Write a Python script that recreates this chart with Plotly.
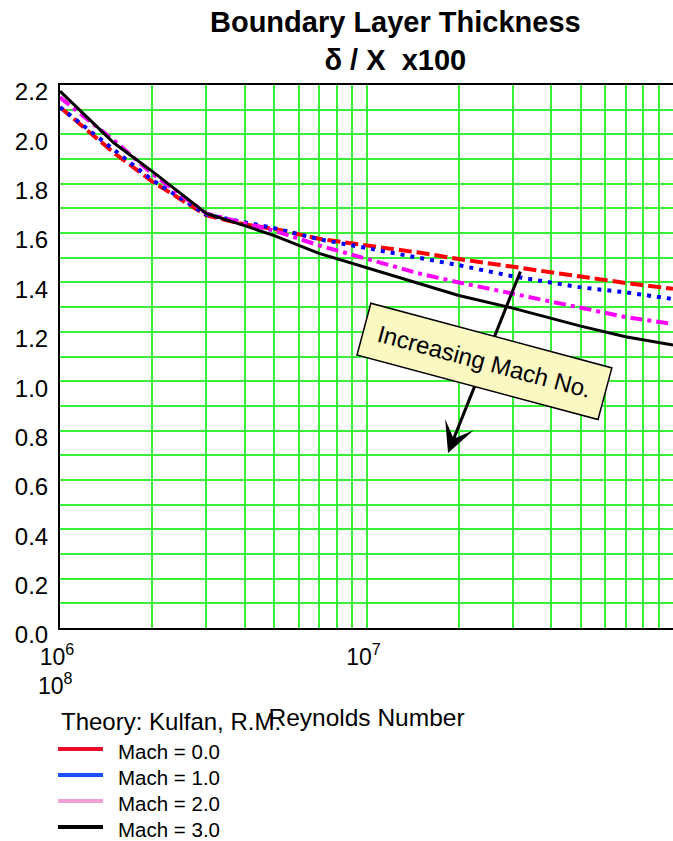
import math
import plotly.graph_objects as go

# Reynolds number stations and delta/x * 100 for each Mach number (Kulfan theory)
reynolds = [1e6, 1.5e6, 2e6, 3e6, 4e6, 5e6, 7e6, 1e7, 1.5e7, 2e7, 3e7, 5e7, 7e7, 1e8]
mach_0 = [2.11, 1.925, 1.809, 1.672, 1.635, 1.617, 1.577, 1.552, 1.52, 1.495, 1.462, 1.424, 1.398, 1.374]
mach_1 = [2.11, 1.935, 1.815, 1.675, 1.645, 1.62, 1.575, 1.54, 1.498, 1.47, 1.425, 1.38, 1.36, 1.333]
mach_2 = [2.15, 1.975, 1.84, 1.68, 1.64, 1.61, 1.55, 1.498, 1.435, 1.40, 1.355, 1.295, 1.26, 1.232]
mach_3 = [2.175, 1.965, 1.85, 1.68, 1.63, 1.59, 1.518, 1.459, 1.393, 1.347, 1.296, 1.223, 1.18, 1.147]

series_names = ["Mach = 0.0", "Mach = 1.0", "Mach = 2.0", "Mach = 3.0"]
series_values = [mach_0, mach_1, mach_2, mach_3]
line_colors = ["#ff0000", "#0000ff", "#ff00ff", "#000000"]
line_dashes = ["13px,5px", "4px,6px", "12px,5px,4px,5px", "solid"]
line_widths = [4, 4, 4, 3]
legend_colors = ["#ee0a2a", "#1a50ff", "#f2a0d2", "#000000"]

# y grid every 0.1, labels every 0.2
y_grid = [round(0.1 * i, 1) for i in range(23)]
y_text = [f"{v:.1f}" if i % 2 == 0 else "" for i, v in enumerate(y_grid)]

# x grid at 1..9 within each decade, labels at decades
x_mult = [m for e in (6, 7) for m in range(1, 10)]
x_grid = [m * 10 ** e for e in (6, 7) for m in range(1, 10)]
x_text = [f"10<sup>{int(round(math.log10(v)))}</sup>" if m == 1 else ""
          for v, m in zip(x_grid, x_mult)]

FONT = "Liberation Sans, Arial, sans-serif"
GRID = "rgb(55,240,55)"

# plot-area geometry in pixels, used to place paper-referenced items
W, H = 673, 841
L, R, T, B = 60, 0, 85, 213
PW, PH = W - L - R, H - T - B


def px_x(px):
    return (px - L) / PW


def px_y(py):
    return (H - B - py) / PH


fig = go.Figure()

for name, vals, color, dash, width in zip(series_names, series_values, line_colors, line_dashes, line_widths):
    fig.add_trace(go.Scatter(
        x=reynolds, y=vals, mode="lines", name=name, showlegend=False,
        line=dict(color=color, width=width, dash=dash),
    ))

fig.update_layout(
    width=W, height=H,
    margin=dict(l=L, r=R, t=T, b=B, autoexpand=False),
    paper_bgcolor="white", plot_bgcolor="white",
    font=dict(family=FONT, color="black"),
    showlegend=False,
    xaxis=dict(
        type="log", range=[6, 8],
        tickmode="array", tickvals=x_grid, ticktext=x_text,
        showgrid=True, gridcolor=GRID, gridwidth=1.5,
        showline=True, linecolor="black", linewidth=2, mirror=True,
        ticks="", tickfont=dict(size=23), automargin=False,
        ticklabelstandoff=7, ticklabelshift=-3,
        title=dict(text="Reynolds Number", font=dict(size=24.5), standoff=40),
        zeroline=False,
    ),
    yaxis=dict(
        range=[0, 2.2],
        tickmode="array", tickvals=y_grid, ticktext=y_text,
        showgrid=True, gridcolor=GRID, gridwidth=1.5,
        showline=True, linecolor="black", linewidth=2, mirror=False,
        ticks="", tickfont=dict(size=24), ticklabelstandoff=5, ticklabelshift=7,
        automargin=False, zeroline=False,
    ),
)

# two-line bold title
fig.add_annotation(text="<b>Boundary Layer Thickness</b><br><b>δ / X\u00a0 x100</b>",
                   xref="paper", yref="paper", x=px_x(395), y=px_y(4),
                   xanchor="center", yanchor="top", showarrow=False,
                   font=dict(size=29))

# decade line at 10^7
fig.add_shape(type="line", xref="x", yref="paper", x0=1e7, x1=1e7, y0=0, y1=1,
              line=dict(color="black", width=1), layer="below")

# wrapped 10^8 tick label
fig.add_annotation(text="10<sup>8</sup>", xref="paper", yref="paper",
                   x=px_x(55), y=px_y(684), xanchor="center", yanchor="middle",
                   showarrow=False, font=dict(size=23))

# legend: title, solid swatches and series names
fig.add_annotation(text="Theory: Kulfan, R.M.", xref="paper", yref="paper",
                   x=px_x(59), y=px_y(721), xanchor="left", yanchor="middle",
                   showarrow=False, font=dict(size=24))
legend_rows = [749, 775, 801, 827]
for name, color, row in zip(series_names, legend_colors, legend_rows):
    fig.add_shape(type="line", xref="paper", yref="paper",
                  x0=px_x(58), x1=px_x(103), y0=px_y(row), y1=px_y(row),
                  line=dict(color=color, width=4))
    fig.add_annotation(text=name, xref="paper", yref="paper",
                       x=px_x(116), y=px_y(row + 2), xanchor="left", yanchor="middle",
                       showarrow=False, font=dict(size=20.5))

# arrow showing increasing Mach number
fig.add_annotation(text="", xref="x", yref="y", x=7.266, y=0.709,
                   axref="x", ayref="y", ax=7.504, ay=1.45,
                   showarrow=True, arrowhead=3, arrowsize=1.7, arrowwidth=3,
                   arrowcolor="black", standoff=0, startstandoff=0)

fig.add_annotation(text="Increasing Mach No.", xref="x", yref="y", x=7.386, y=1.081,
                   xanchor="center", yanchor="middle", showarrow=False,
                   textangle=15, font=dict(size=24),
                   bgcolor="#fbf8c2", bordercolor="black", borderwidth=1.5,
                   width=238, height=42, borderpad=5)

fig.write_html("out.html")
